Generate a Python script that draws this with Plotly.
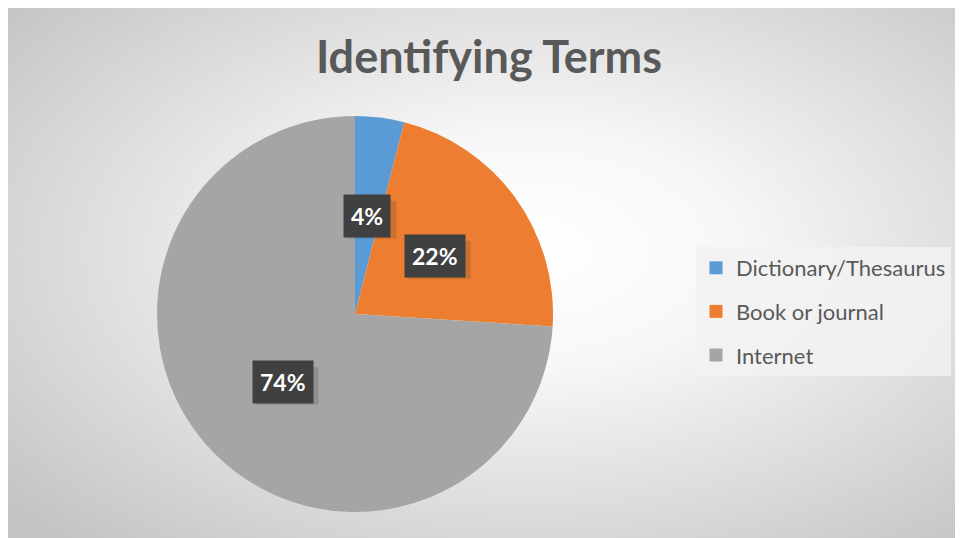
import base64, math
import plotly.graph_objects as go

categories = ["Dictionary/Thesaurus", "Book or journal", "Internet"]
values = [4, 22, 74]
colors = ["#5B9BD5", "#ED7D31", "#A5A5A5"]
title_text = "Identifying Terms"

W, H = 963, 538
FONT = "Lato"
OFF = 8  # page body margin

def fx(px):
    return (px - OFF) / W

def fy(py):
    return 1 - (py - OFF) / H

# pie geometry (page pixels)
cx, cy, R = 355, 314, 198
dom_x = [fx(cx - R), fx(cx + R)]
dom_y = [fy(cy + R), fy(cy - R)]

fig = go.Figure()
fig.add_trace(go.Pie(
    labels=categories, values=values, sort=False, direction="clockwise",
    rotation=0, marker=dict(colors=colors, line=dict(width=0)),
    textinfo="none", hoverinfo="label+percent", showlegend=False,
    domain=dict(x=dom_x, y=dom_y),
))

# legend via dummy traces
for i, (c, col) in enumerate(zip(categories, colors)):
    fig.add_trace(go.Scatter(
        x=[None], y=[None], mode="markers", name=c, legendgroup=str(i),
        marker=dict(symbol="square", size=13, color=col),
    ))

# data labels at half radius along slice mid-angle
total = sum(values)
cum = 0
annotations = []
shapes = []
for v in values:
    mid = (cum + v / 2) / total * 2 * math.pi
    cum += v
    px = cx + 0.5 * R * math.sin(mid)
    py = cy - 0.5 * R * math.cos(mid)
    pct = f"{round(v / total * 100)}%"
    # soft shadow behind the label box
    hw = (13 * len(pct) + 24) / 2
    hh = 19
    shapes.append(dict(
        type="rect", xref="paper", yref="paper", layer="above",
        x0=fx(px - hw + 4), x1=fx(px + hw + 4), y0=fy(py + hh + 4), y1=fy(py - hh + 4),
        fillcolor="rgba(60,60,60,0.2)", line=dict(width=0),
    ))
    annotations.append(dict(
        x=fx(px), y=fy(py), xref="paper", yref="paper",
        xanchor="center", yanchor="middle",
        text=f"<b>{pct}</b>", showarrow=False,
        font=dict(family=FONT, size=23, color="white"),
        bgcolor="#404040", borderpad=7,
    ))

svg = ('<svg xmlns="http://www.w3.org/2000/svg" width="950" height="540" preserveAspectRatio="none">'
       '<defs><radialGradient id="g" cx="55%" cy="45%" r="72%">'
       '<stop offset="0" stop-color="#ffffff"/><stop offset="0.3" stop-color="#f7f7f7"/>'
       '<stop offset="1" stop-color="#c4c4c4"/></radialGradient></defs>'
       '<rect width="950" height="540" fill="url(#g)"/></svg>')
src = "data:image/svg+xml;base64," + base64.b64encode(svg.encode()).decode()

fig.update_layout(
    width=W, height=H, margin=dict(l=0, r=0, t=0, b=0),
    paper_bgcolor="white", plot_bgcolor="rgba(0,0,0,0)",
    xaxis=dict(visible=False), yaxis=dict(visible=False),
    title=dict(text=f"<b>{title_text}</b>", x=fx(489), xanchor="center",
               y=fy(57), yanchor="middle",
               font=dict(family=FONT, size=45, color="#595959")),
    legend=dict(x=fx(696), y=fy(247), xanchor="left", yanchor="top",
                bgcolor="rgba(242,242,242,0.85)", tracegroupgap=12,
                font=dict(family=FONT, size=22, color="#595959"),
                itemwidth=30),
    annotations=annotations,
    shapes=shapes,
    images=[dict(source=src, xref="paper", yref="paper", x=0, y=1,
                 sizex=950 / W, sizey=540 / H, xanchor="left", yanchor="top",
                 sizing="stretch", layer="below")],
)

fig.write_html("out.html")
